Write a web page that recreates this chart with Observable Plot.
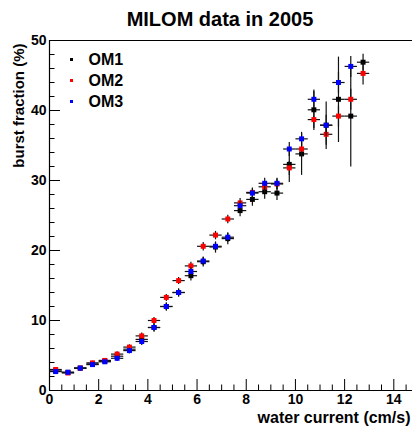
<!DOCTYPE html>
<html>
<head>
<meta charset="utf-8">
<script src="https://cdn.jsdelivr.net/npm/d3@7"></script>
<script src="https://cdn.jsdelivr.net/npm/@observablehq/plot@0.6"></script>
<style>
  html, body { margin: 0; padding: 0; background: #fff; }
  #chart { width: 412px; height: 428px; }
</style>
</head>
<body>
<div id="chart"></div>
<script>
// ---- data ----
const title = "MILOM data in 2005";
const xLabel = "water current (cm/s)";
const yLabel = "burst fraction (%)";
const seriesNames = ["OM1", "OM2", "OM3"];
const seriesColors = ["#000000", "#ff0000", "#0000ff"];
const binHalfWidth = 0.25;
const binCenters = [0.25, 0.75, 1.25, 1.75, 2.25, 2.75, 3.25, 3.75, 4.25, 4.75, 5.25, 5.75, 6.25,
                    6.75, 7.25, 7.75, 8.25, 8.75, 9.25, 9.75, 10.25, 10.75, 11.25, 11.75, 12.25, 12.75];
const om1    = [2.8, 2.6, 3.2, 3.8, 4.2, 4.9, 5.9, 7.3, 9.0, 12.0, 14.0, 16.4, 18.4,
                20.5, 21.7, 25.7, 27.3, 28.4, 28.2, 32.3, 33.8, 40.1, 37.9, 41.6, 39.2, 46.9];
const om1Err = [0.3, 0.3, 0.3, 0.3, 0.3, 0.4, 0.5, 0.6, 0.6, 0.6, 0.6, 0.7, 0.7,
                0.8, 0.8, 0.8, 0.9, 1.0, 1.0, 2.5, 3.0, 2.9, 3.4, 6.1, 7.2, 1.2];
const om2    = [3.0, 2.5, 3.2, 3.95, 4.3, 5.2, 6.2, 7.8, 10.0, 13.3, 15.7, 17.8, 20.6,
                22.2, 24.5, 26.8, 28.3, 29.1, 29.5, 31.8, 34.5, 38.7, 36.6, 39.2, 41.6, 45.3];
const om2Err = [0.3, 0.3, 0.3, 0.3, 0.3, 0.4, 0.4, 0.5, 0.5, 0.5, 0.5, 0.6, 0.6,
                0.6, 0.6, 0.7, 0.7, 0.8, 0.8, 1.0, 1.0, 1.2, 1.5, 1.5, 1.5, 1.6];
const om3    = [2.7, 2.6, 3.2, 3.7, 4.1, 4.6, 5.7, 7.0, 9.0, 12.0, 14.0, 17.0, 18.5,
                20.6, 21.9, 26.4, 28.2, 29.6, 29.6, 34.5, 35.95, 41.6, 37.9, 44.0, 46.3, null];
const om3Err = [0.3, 0.3, 0.3, 0.3, 0.3, 0.4, 0.4, 0.5, 0.5, 0.5, 0.5, 0.6, 0.6,
                0.6, 0.7, 0.7, 0.7, 0.8, 0.8, 1.0, 1.0, 1.2, 1.5, 1.5, 1.5, null];
const xTicks = [0, 2, 4, 6, 8, 10, 12, 14];
const xMinorTicks = d3.range(0, 14.76, 0.5).filter(v => v % 2 !== 0);
const yTicks = [0, 10, 20, 30, 40, 50];
const yMinorTicks = d3.range(0, 50, 2).filter(v => v % 10 !== 0);

const seriesValues = [om1, om2, om3];
const seriesErrors = [om1Err, om2Err, om3Err];

// ---- build rows ----
const seriesRows = seriesValues.map((vals, s) =>
  binCenters.map((x, i) => ({x, y: vals[i], err: seriesErrors[s][i], series: seriesNames[s]}))
            .filter(d => d.y != null));

const W = 412, H = 428;
const mL = 49, mR = 0, mT = 40, mB = 38;
const frameW = W - mL - mR, frameH = H - mT - mB;
const font = "Liberation Sans, Arial, Helvetica, sans-serif";

const marks = [];
// frame lines (left, bottom, top) - right edge lies outside the window
marks.push(Plot.ruleY([yTicks[yTicks.length - 1]], {stroke: "#000", strokeWidth: 1.2}));
marks.push(Plot.ruleX([0], {stroke: "#000", strokeWidth: 1.2}));
marks.push(Plot.ruleY([0], {stroke: "#000", strokeWidth: 1.2}));
// inside ticks
marks.push(Plot.tickX(xTicks, {x: d => d, insetTop: frameH - 11, stroke: "#000", strokeWidth: 1}));
marks.push(Plot.tickX(xMinorTicks, {x: d => d, insetTop: frameH - 5.5, stroke: "#000", strokeWidth: 1}));
marks.push(Plot.tickY(yTicks, {y: d => d, insetRight: frameW - 11, stroke: "#000", strokeWidth: 1}));
marks.push(Plot.tickY(yMinorTicks, {y: d => d, insetRight: frameW - 5.5, stroke: "#000", strokeWidth: 1}));

// series: error bars then markers
seriesRows.forEach((rows, s) => {
  marks.push(Plot.link(rows, {x1: d => d.x - binHalfWidth, x2: d => d.x + binHalfWidth,
                              y1: "y", y2: "y", stroke: "#111", strokeWidth: 1.2}));
  marks.push(Plot.link(rows, {x1: "x", x2: "x", y1: d => d.y - d.err, y2: d => d.y + d.err,
                              stroke: "#111", strokeWidth: 1.2}));
  marks.push(Plot.dot(rows, {x: "x", y: "y", symbol: "square", r: 2.8, fill: seriesColors[s], stroke: "none"}));
});

// legend
seriesNames.forEach((name, i) => {
  marks.push(Plot.dot([name], {frameAnchor: "top-left", dx: 22, dy: 19 + 21 * i, symbol: "square",
                               r: 1.7, fill: seriesColors[i], stroke: "none"}));
  marks.push(Plot.text([name], {frameAnchor: "top-left", dx: 39, dy: 19 + 21 * i, text: d => d,
                                textAnchor: "start", lineAnchor: "middle", fontSize: 16,
                                fontWeight: "bold", fill: "#000"}));
});

// title and axis labels
marks.push(Plot.text([title], {frameAnchor: "top", dx: -11, dy: -20.5, text: d => d, lineAnchor: "middle",
                               fontSize: 20, fontWeight: "bold", fill: "#000"}));
marks.push(Plot.text([yLabel], {frameAnchor: "top-left", dx: -30, dy: 3, rotate: -90, text: d => d,
                                textAnchor: "end", lineAnchor: "middle", fontSize: 15, fontWeight: "bold", fill: "#000"}));
marks.push(Plot.text([xLabel], {frameAnchor: "bottom-right", dx: -2, dy: 27, text: d => d,
                                textAnchor: "end", lineAnchor: "middle", fontSize: 16, fontWeight: "bold", fill: "#000"}));

// axes labels (tick text)
marks.push(Plot.axisX(xTicks, {tickSize: 0, tickPadding: 4, fontSize: 14, fontWeight: "bold", label: null}));
marks.push(Plot.axisY(yTicks, {tickSize: 0, tickPadding: 3, fontSize: 14, fontWeight: "bold", label: null}));

const chart = Plot.plot({
  width: W, height: H,
  marginLeft: mL, marginRight: mR, marginTop: mT, marginBottom: mB,
  style: {fontFamily: font, background: "#fff", color: "#000", overflow: "visible"},
  x: {domain: [0, 14.76]},
  y: {domain: [0, 50]},
  marks
});
document.getElementById("chart").appendChild(chart);
</script>
</body>
</html>
